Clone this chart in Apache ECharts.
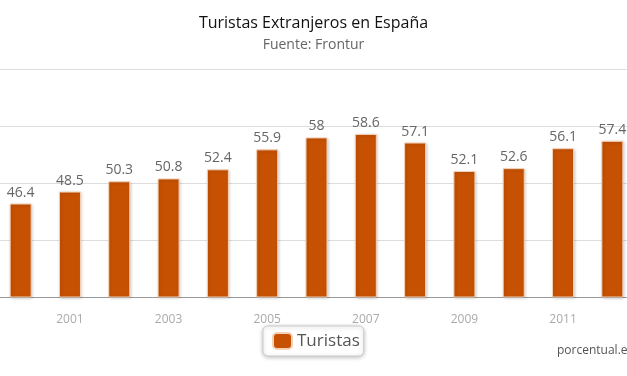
<!DOCTYPE html>
<html>
<head>
<meta charset="utf-8">
<script src="https://cdn.jsdelivr.net/npm/echarts@6/dist/echarts.min.js"></script>
<style>
  html, body { margin: 0; padding: 0; background: #fff; }
  #chart { width: 627px; height: 376px; }
</style>
</head>
<body>
<div id="chart"></div>
<script>
const years = ['2000', '2001', '2002', '2003', '2004', '2005', '2006', '2007', '2008', '2009', '2010', '2011', '2012']
const turistas = [46.4, 48.5, 50.3, 50.8, 52.4, 55.9, 58, 58.6, 57.1, 52.1, 52.6, 56.1, 57.4]

const chart = echarts.init(document.getElementById('chart'))
chart.setOption({
  animation: false,
  title: {
    text: 'Turistas Extranjeros en España',
    subtext: 'Fuente: Frontur',
    left: 'center',
    top: 10,
    itemGap: 7,
    textStyle: { fontFamily: 'Open Sans', fontSize: 16, fontWeight: 'normal', color: '#111' },
    subtextStyle: { fontFamily: 'Open Sans', fontSize: 14, color: '#666' }
  },
  // the plot is wider than the picture: y labels and later bars fall outside
  grid: { left: -4, width: 641, top: 69, bottom: 79, outerBoundsMode: 'none' },
  legend: {
    data: ['Turistas'],
    top: 326,
    left: 263,
    icon: 'roundRect',
    itemWidth: 19,
    itemHeight: 16,
    itemGap: 6,
    padding: [6, 4, 6, 9],
    borderColor: '#ccc',
    borderWidth: 1,
    borderRadius: 5,
    shadowColor: 'rgba(0,0,0,0.25)',
    shadowBlur: 4,
    shadowOffsetY: 1,
    backgroundColor: '#fff',
    textStyle: { fontFamily: 'Open Sans', fontSize: 17, color: '#555', padding: [0, 0, 0, 0] }
  },
  xAxis: {
    type: 'category',
    data: years,
    axisLine: { lineStyle: { color: '#999' } },
    axisTick: { length: 5, lineStyle: { color: '#999' } },
    axisLabel: {
      interval: (i) => i % 2 === 1,
      margin: 17,
      fontFamily: 'Open Sans',
      fontSize: 12,
      color: '#aaa'
    }
  },
  yAxis: {
    type: 'value',
    min: 30,
    max: 70,
    interval: 10,
    axisLabel: { show: false },
    splitLine: { lineStyle: { color: '#ddd' } }
  },
  series: [{
    name: 'Turistas',
    type: 'bar',
    data: turistas,
    barWidth: 22,
    itemStyle: {
      color: '#c65102',
      borderColor: '#f3d2b8',
      borderWidth: 1,
      shadowColor: 'rgba(0,0,0,0.2)',
      shadowBlur: 3,
      shadowOffsetX: 1,
      shadowOffsetY: 1
    },
    label: {
      show: true,
      position: 'top',
      distance: 4,
      fontFamily: 'Open Sans',
      fontSize: 14,
      color: '#666'
    }
  }],
  graphic: [{
    type: 'text',
    left: 557,
    top: 345,
    style: { text: 'porcentual.es', font: '12px "Open Sans"', fill: '#555' }
  }]
})
</script>
</body>
</html>
